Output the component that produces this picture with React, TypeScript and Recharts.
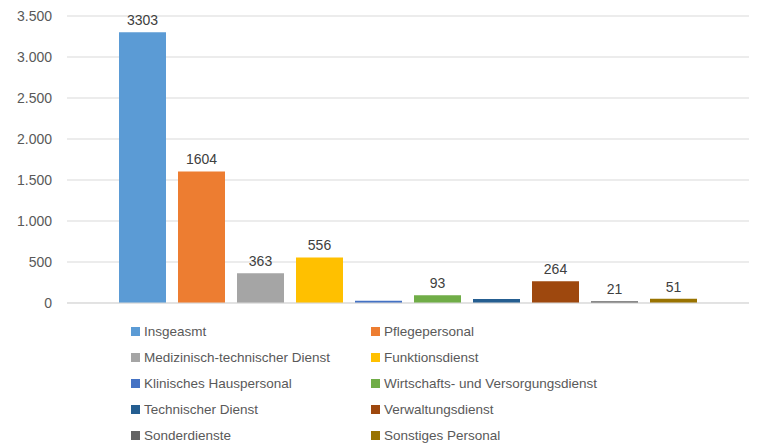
import React from 'react';
import { BarChart, Bar, XAxis, YAxis, CartesianGrid, Legend, LabelList } from 'recharts';

const SERIES_NAMES = [
  'Insgeasmt',
  'Pflegepersonal',
  'Medizinisch-technischer Dienst',
  'Funktionsdienst',
  'Klinisches Hauspersonal',
  'Wirtschafts- und Versorgungsdienst',
  'Technischer Dienst',
  'Verwaltungsdienst',
  'Sonderdienste',
  'Sonstiges Personal',
];
const SERIES_VALUES = [3303, 1604, 363, 556, 28, 93, 48, 264, 21, 51];
const SHOW_LABEL = [true, true, true, true, false, true, false, true, true, true];
const SERIES_COLORS = [
  '#5b9bd5',
  '#ed7d31',
  '#a5a5a5',
  '#ffc000',
  '#4472c4',
  '#70ad47',
  '#255e91',
  '#9e480e',
  '#636363',
  '#997300',
];
const Y_TICKS = [0, 500, 1000, 1500, 2000, 2500, 3000, 3500];

const FONT = '"Liberation Sans", Arial, sans-serif';
const TEXT = '#595959';

const row: Record<string, number | string> = { name: '' };
SERIES_NAMES.forEach((n, i) => {
  row[`s${i}`] = SERIES_VALUES[i];
});
const chartData = [row];

const fmt = (v: number) => v.toLocaleString('de-DE');

// legend keeps the series order (recharts sorts the payload by name)
const LegendGrid = () => (
  <div
    style={{
      display: 'grid',
      gridTemplateColumns: '240px 300px',
      gridAutoRows: '26px',
      paddingLeft: 131,
      fontFamily: FONT,
      fontSize: 13.5,
      color: TEXT,
    }}
  >
    {SERIES_NAMES.map((n, i) => (
      <div key={n} style={{ display: 'flex', alignItems: 'center', whiteSpace: 'nowrap' }}>
        <span style={{ width: 9, height: 9, background: SERIES_COLORS[i], marginRight: 4, display: 'inline-block' }} />
        {n}
      </div>
    ))}
  </div>
);

export default function App() {
  return (
    <div style={{ width: 762, height: 445, background: '#fff' }}>
      <style>{'body{margin:0}'}</style>
      <BarChart
        width={762}
        height={445}
        data={chartData}
        margin={{ top: 16, right: 13, left: 0, bottom: 141 }}
        barSize={47}
        barGap={12}
      >
        <CartesianGrid vertical={false} stroke="#d9d9d9" />
        <XAxis dataKey="name" tick={false} tickLine={false} axisLine={{ stroke: '#d9d9d9' }} height={1} />
        <YAxis
          width={67}
          domain={[0, 3500]}
          ticks={Y_TICKS}
          tickFormatter={fmt}
          axisLine={false}
          tickLine={false}
          tickSize={0}
          tickMargin={15}
          tick={{ fill: TEXT, fontSize: 14, fontFamily: FONT }}
        />
        <Legend
          content={<LegendGrid />}
          wrapperStyle={{ position: 'absolute', top: 318, left: 0, width: 762, height: 0, overflow: 'visible' }}
        />
        {SERIES_NAMES.map((n, i) => (
          <Bar key={n} dataKey={`s${i}`} name={n} fill={SERIES_COLORS[i]} isAnimationActive={false}>
            {SHOW_LABEL[i] && (
              <LabelList
                dataKey={`s${i}`}
                position="top"
                offset={7}
                fill="#404040"
                fontSize={14}
                fontFamily={FONT}
              />
            )}
          </Bar>
        ))}
      </BarChart>
    </div>
  );
}
